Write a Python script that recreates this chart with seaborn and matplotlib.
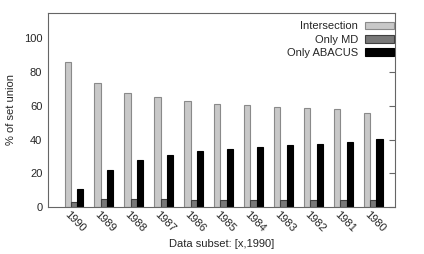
import pandas as pd
import matplotlib
matplotlib.use("Agg")
import matplotlib.pyplot as plt
import matplotlib.transforms as mtransforms
import seaborn as sns

# -------------------------------
# Data
# -------------------------------
years = ["1990", "1989", "1988", "1987", "1986", "1985",
         "1984", "1983", "1982", "1981", "1980"]
intersection = [86.2, 73.2, 67.3, 64.9, 62.7, 61.1, 60.2, 59.0, 58.4, 58.0, 55.8]
only_md = [3.0, 4.6, 5.0, 4.6, 4.4, 4.4, 4.2, 4.3, 4.1, 4.0, 4.0]
only_abacus = [10.6, 22.0, 27.8, 30.6, 33.0, 34.3, 35.7, 36.7, 37.5, 38.3, 40.2]
series_names = ["Intersection", "Only MD", "Only ABACUS"]

df = pd.DataFrame({
    "year": years * 3,
    "series": [series_names[0]] * len(years) + [series_names[1]] * len(years) + [series_names[2]] * len(years),
    "value": intersection + only_md + only_abacus,
})

# -------------------------------
# Plot
# -------------------------------
sns.set_style("white")
plt.rcParams["font.family"] = ["Liberation Sans", "DejaVu Sans"]
plt.rcParams["font.size"] = 8

fill_colors = ["#c8c8c8", "#787878", "#000000"]
edge_colors = ["#8a8a8a", "#404040", "#000000"]

fig = plt.figure(figsize=(4.24, 2.54), dpi=100)
ax = fig.add_axes([0.113, 0.185, 0.819, 0.764])

sns.barplot(data=df, x="year", y="value", hue="series", order=years,
            hue_order=series_names, palette=fill_colors, width=0.63,
            saturation=1, ax=ax, legend=True)

# outline each bar in a darker shade of its fill
for container, ec in zip(ax.containers, edge_colors):
    for bar in container:
        bar.set_edgecolor(ec)
        bar.set_linewidth(0.8)

ax.set_xlim(-0.87, 10.73)
ax.set_ylim(0, 115)
ax.set_yticks([0, 20, 40, 60, 80, 100])
ax.set_ylabel("% of set union", labelpad=6)
ax.set_xlabel("Data subset: [x,1990]", labelpad=3)

for spine in ax.spines.values():
    spine.set_visible(True)
    spine.set_color("#666666")
    spine.set_linewidth(0.8)

ax.tick_params(axis="y", direction="in", right=True, length=4, color="#666666", pad=4)
ax.tick_params(axis="x", length=0, pad=2)

offset = mtransforms.ScaledTranslation(-4 / 100, 0, fig.dpi_scale_trans)
for lbl in ax.get_xticklabels():
    lbl.set_rotation(-45)
    lbl.set_ha("left")
    lbl.set_va("top")
    lbl.set_rotation_mode("anchor")
    lbl.set_transform(lbl.get_transform() + offset)

handles, labels = ax.get_legend_handles_labels()
for h, ec in zip(handles, edge_colors):
    h.set_edgecolor(ec)
    h.set_linewidth(0.8)
ax.legend(handles, labels, loc="upper right", bbox_to_anchor=(1.008, 0.98),
          frameon=False, markerfirst=False,
          handlelength=2.6, handleheight=0.7, handletextpad=0.6,
          labelspacing=0.3, borderaxespad=0.1, borderpad=0.3)

fig.savefig("out.png", dpi=100)
